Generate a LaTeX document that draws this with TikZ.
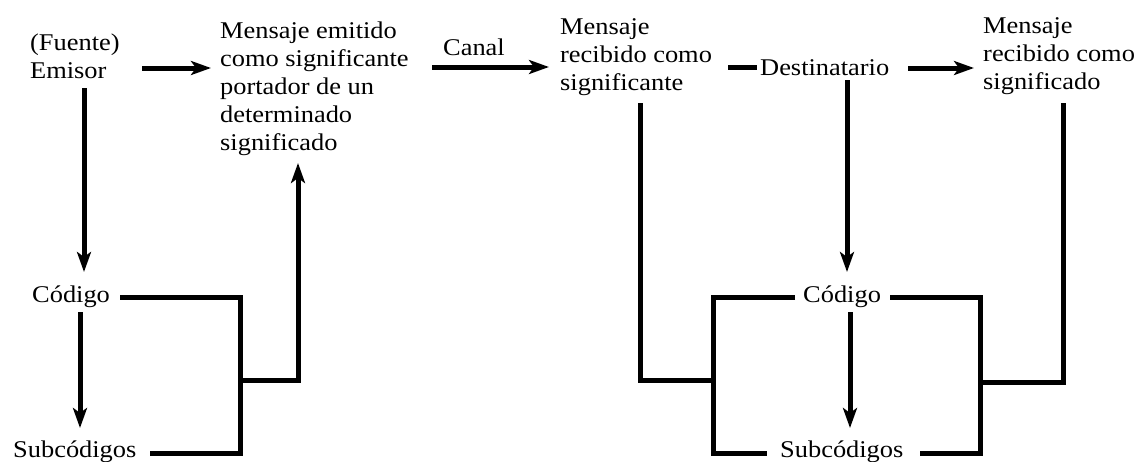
\documentclass[tikz,border=0pt]{standalone}
\usepackage{fontspec}
\setmainfont[FakeStretch=1.1]{Liberation Serif}
\usetikzlibrary{arrows.meta}
\begin{document}
\begin{tikzpicture}[x=1pt,y=-1pt,
  txt/.style={anchor=base west, inner sep=0pt, align=left, font=\fontsize{24}{28}\selectfont},
  conn/.style={line width=5pt, line join=miter},
  arr/.style={conn, -{Stealth[length=20pt,width=14pt,inset=5pt]}}]
\useasboundingbox (0,0) rectangle (1146,461);
% texts (anchor = baseline of the last line)
\node[txt] (emisor) at (30,78) {(Fuente)\\Emisor};
\node[txt] (msgE) at (220,150) {Mensaje emitido\\como significante\\portador de un\\determinado\\significado};
\node[txt] (canal) at (443,55) {Canal};
\node[txt] (msgRs) at (560,90) {Mensaje\\recibido como\\significante};
\node[txt] (dest) at (760,75) {Destinatario};
\node[txt] (msgRd) at (983,89) {Mensaje\\recibido como\\significado};
\node[txt] (codL) at (32,302) {Código};
\node[txt] (subL) at (13,457) {Subcódigos};
\node[txt] (codR) at (803,302) {Código};
\node[txt] (subR) at (780,457) {Subcódigos};
% connector ends
\coordinate (emOut) at (142,68);   \coordinate (meIn) at (211,68);
\coordinate (emDown) at (84,88);   \coordinate (codLIn) at (84,272);
\coordinate (codLDown) at (80,312); \coordinate (subLIn) at (80,428);
\coordinate (codLOut) at (120,297); \coordinate (bL) at (240,297);
\coordinate (bLb) at (240,453);    \coordinate (subLOut) at (150,453);
\coordinate (bLm) at (240,380);    \coordinate (upC) at (298,380);
\coordinate (meBot) at (298,163);
\coordinate (canOut) at (432,67);  \coordinate (rsIn) at (549,67);
\coordinate (rsOut) at (728,67);   \coordinate (destIn) at (757,67);
\coordinate (destOut) at (908,68); \coordinate (rdIn) at (974,68);
\coordinate (destDown) at (847,80); \coordinate (codRIn) at (847,272);
\coordinate (codRDown) at (850,312); \coordinate (subRIn) at (850,428);
\coordinate (rsDown) at (640,103); \coordinate (rsC) at (640,380);
\coordinate (bRm) at (713,380);
\coordinate (codRL) at (795,297);  \coordinate (bRtl) at (713,297);
\coordinate (bRbl) at (713,453);   \coordinate (subRL) at (767,453);
\coordinate (codRR) at (890,297);  \coordinate (bRtr) at (980,297);
\coordinate (bRbr) at (980,453);   \coordinate (subRR) at (920,453);
\coordinate (bRm2) at (980,382);   \coordinate (rdC) at (1063,382);
\coordinate (rdDown) at (1063,103);
% connectors
\draw[arr] (emOut) -- (meIn);
\draw[arr] (emDown) -- (codLIn);
\draw[arr] (codLDown) -- (subLIn);
\draw[conn] (codLOut) -- (bL) -- (bLb) -- (subLOut);
\draw[arr] (bLm) -- (upC) -- (meBot);
\draw[arr] (canOut) -- (rsIn);
\draw[conn] (rsOut) -- (destIn);
\draw[arr] (destOut) -- (rdIn);
\draw[arr] (destDown) -- (codRIn);
\draw[arr] (codRDown) -- (subRIn);
\draw[conn] (rsDown) -- (rsC) -- (bRm);
\draw[conn] (codRL) -- (bRtl) -- (bRbl) -- (subRL);
\draw[conn] (codRR) -- (bRtr) -- (bRbr) -- (subRR);
\draw[conn] (bRm2) -- (rdC) -- (rdDown);
\end{tikzpicture}
\end{document}
